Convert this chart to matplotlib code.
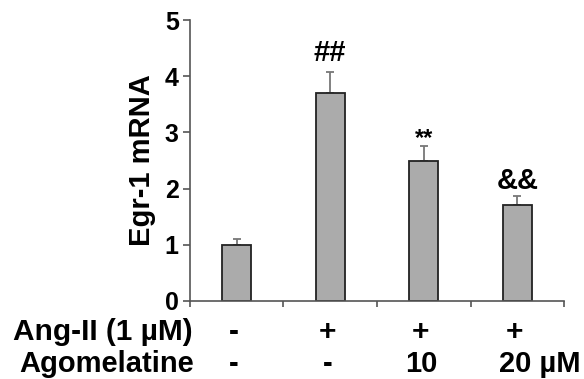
import numpy as np
import matplotlib
matplotlib.use("Agg")
import matplotlib.pyplot as plt
import matplotlib.transforms as mtransforms

plt.rcParams['font.family'] = ['Liberation Sans', 'DejaVu Sans']
plt.rcParams['font.weight'] = 'bold'

# data
groups = ['ctrl', 'ang', 'ago10', 'ago20']
values = [1.0, 3.7, 2.5, 1.7]
errors = [0.10, 0.37, 0.25, 0.16]
marks = ['', '##', '**', '&&']
ang_row = ['-', '+', '+', '+']
ago_row = ['-', '-', '10', '20 \u00b5M']
row_names = ['Ang-II (1 \u00b5M)', 'Agomelatine']

fig = plt.figure(figsize=(5.84, 3.79), dpi=100)
ax = fig.add_axes([0.325, 0.206, 0.641, 0.741])

x = np.arange(len(groups))
ax.bar(x, values, width=0.31, color='#ababab', edgecolor='#222222', linewidth=1.3, zorder=2)
ax.errorbar(x, values, yerr=[np.zeros(len(errors)), errors], fmt='none',
            ecolor='#777777', elinewidth=1.3, capsize=3, capthick=1.3, zorder=1)

# significance marks above the error bars
mark_y = [0, 4.41, 2.90, 2.13]
mark_size = [0, 21, 17, 21]
for xi, m, my, ms in zip(x, marks, mark_y, mark_size):
    if m:
        ax.text(xi, my, m, ha='center', va='center', fontsize=ms, fontweight='bold')

ax.set_xlim(-0.5, 3.5)
ax.set_ylim(0, 5)
ax.set_yticks(range(6))
ax.set_yticklabels([str(v) for v in range(6)], fontsize=18, fontweight='bold')
ax.set_xticks([-0.5, 0.5, 1.5, 2.5, 3.5])
ax.set_xticklabels([])
ax.set_ylabel('Egr-1 mRNA', fontsize=21, fontweight='bold', labelpad=6)

for side in ['top', 'right']:
    ax.spines[side].set_visible(False)
for side in ['left', 'bottom']:
    ax.spines[side].set_color('#555555')
    ax.spines[side].set_linewidth(1.2)
ax.tick_params(axis='y', direction='out', length=5, width=1.2, color='#555555', pad=3)
ax.tick_params(axis='x', direction='out', length=4, width=1.2, color='#555555')

# treatment table under the axis
trans = mtransforms.blended_transform_factory(ax.transData, ax.transAxes)
row_y = [-0.110, -0.226]
ax.text(-0.47, row_y[0], row_names[0], transform=trans, ha='right', va='center',
        fontsize=21.5, fontweight='bold')
ax.text(-0.46, row_y[1], row_names[1], transform=trans, ha='right', va='center',
        fontsize=21, fontweight='bold')
for xi, s in zip(x, ang_row):
    ax.text(xi - 0.03, row_y[0], s, transform=trans, ha='center', va='center',
            fontsize=21.5, fontweight='bold')
for xi, s in zip(x, ago_row):
    dx = 0.24 if 'M' in s else -0.03
    ax.text(xi + dx, row_y[1], s, transform=trans, ha='center', va='center',
            fontsize=21, fontweight='bold')

fig.savefig('out.png', dpi=100)
